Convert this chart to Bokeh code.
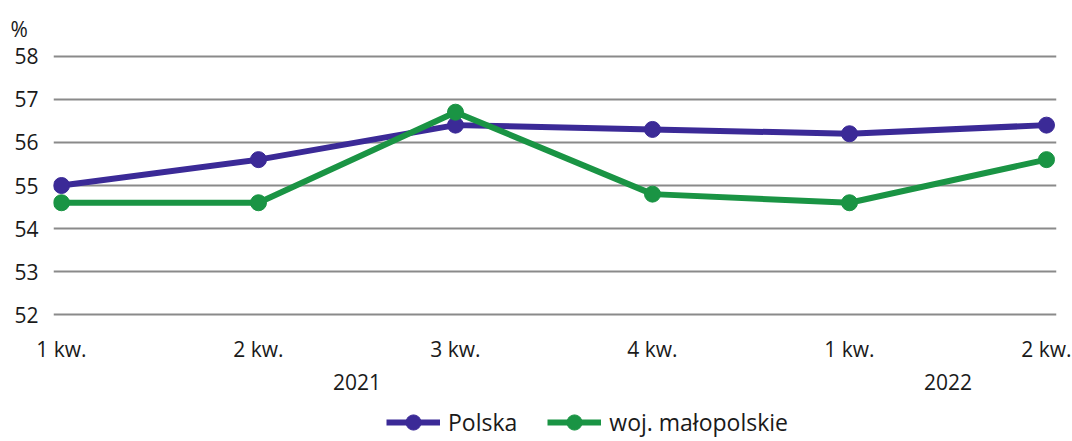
from bokeh.plotting import figure
from bokeh.models import (ColumnDataSource, Range1d, FixedTicker, LinearAxis,
                          Legend, LegendItem, Title)
from bokeh.layouts import column
from bokeh.embed import file_html
from bokeh.resources import INLINE

quarters = ["1 kw.", "2 kw.", "3 kw.", "4 kw.", "1 kw.", "2 kw."]
years = ["2021", "2022"]
polska = [55.0, 55.6, 56.4, 56.3, 56.2, 56.4]
malopolskie = [54.6, 54.6, 56.7, 54.8, 54.6, 55.6]
y_ticks = [52, 53, 54, 55, 56, 57, 58]

FONT = "Open Sans"
PURPLE = "#3b2a97"
GREEN = "#1a9444"
TEXT = "#1a1a1a"

xs = list(range(len(quarters)))
src = ColumnDataSource(dict(x=xs, pl=polska, ma=malopolskie))

p = figure(width=1072, height=400, output_backend="svg", toolbar_location=None,
           x_range=Range1d(-0.0406, 5.0508), y_range=Range1d(51.8, 58.2),
           min_border_left=53, min_border_right=16, min_border_top=47,
           min_border_bottom=77, background_fill_color="white",
           border_fill_color="white", outline_line_color=None)

p.yaxis.ticker = FixedTicker(ticks=y_ticks)
p.yaxis.axis_line_color = None
p.yaxis.major_tick_line_color = None
p.yaxis.minor_tick_line_color = None
p.yaxis.major_label_text_font = FONT
p.yaxis.major_label_text_font_size = "21px"
p.yaxis.major_label_text_color = TEXT
p.yaxis.major_label_standoff = 9

p.xaxis.ticker = FixedTicker(ticks=xs)
p.xaxis.major_label_overrides = {i: q for i, q in enumerate(quarters)}
p.xaxis.axis_line_color = None
p.xaxis.major_tick_line_color = None
p.xaxis.minor_tick_line_color = None
p.xaxis.major_tick_out = 0
p.xaxis.major_label_text_font = FONT
p.xaxis.major_label_text_font_size = "21px"
p.xaxis.major_label_text_color = TEXT
p.xaxis.major_label_standoff = 11

year_pos = [1.5, 4.5]
ax2 = LinearAxis(ticker=FixedTicker(ticks=year_pos),
                 major_label_overrides={year_pos[i]: y for i, y in enumerate(years)},
                 axis_line_color=None, major_tick_line_color=None,
                 minor_tick_line_color=None, major_tick_out=0, major_label_text_font=FONT,
                 major_label_text_font_size="21px", major_label_text_color=TEXT,
                 major_label_standoff=8)
p.add_layout(ax2, "below")

p.xgrid.grid_line_color = None
p.ygrid.ticker = FixedTicker(ticks=y_ticks)
p.ygrid.grid_line_color = "#8a8a8a"
p.ygrid.grid_line_width = 2

p.line("x", "pl", source=src, line_color=PURPLE, line_width=6)
p.scatter("x", "pl", source=src, size=16, fill_color=PURPLE, line_color=PURPLE)
p.line("x", "ma", source=src, line_color=GREEN, line_width=6)
p.scatter("x", "ma", source=src, size=16, fill_color=GREEN, line_color=GREEN)

t = Title(text="%", align="left", offset=-43, text_font=FONT,
          text_font_size="21px", text_font_style="normal", text_color=TEXT)
p.add_layout(t, "above")

# legend strip (its renderers sit outside its visible range, only the legend shows)
lf = figure(width=1072, height=41, output_backend="svg", toolbar_location=None,
            x_range=Range1d(100, 101), y_range=Range1d(100, 101),
            x_axis_type=None, y_axis_type=None, min_border=0,
            min_border_left=0, min_border_right=0, min_border_top=0,
            min_border_bottom=0, outline_line_color=None,
            background_fill_color="white", border_fill_color="white")
lf.xgrid.visible = False
lf.ygrid.visible = False
r1 = lf.line("x", "pl", source=src, line_color=PURPLE, line_width=6)
s1 = lf.scatter("x", "pl", source=src, size=16, fill_color=PURPLE, line_color=PURPLE)
r2 = lf.line("x", "ma", source=src, line_color=GREEN, line_width=6)
s2 = lf.scatter("x", "ma", source=src, size=16, fill_color=GREEN, line_color=GREEN)

legend = Legend(items=[LegendItem(label="Polska", renderers=[r1, s1]),
                       LegendItem(label="woj. małopolskie", renderers=[r2, s2])],
                orientation="horizontal", location=(333, 0),
                label_text_font=FONT, label_text_font_size="23px",
                label_text_color=TEXT, glyph_width=54, glyph_height=38,
                label_standoff=8, spacing=30, padding=0, margin=0,
                border_line_color=None, background_fill_alpha=0)
lf.add_layout(legend, "center")

layout = column(p, lf, spacing=0)
open("out.html", "w").write(file_html(layout, INLINE))
